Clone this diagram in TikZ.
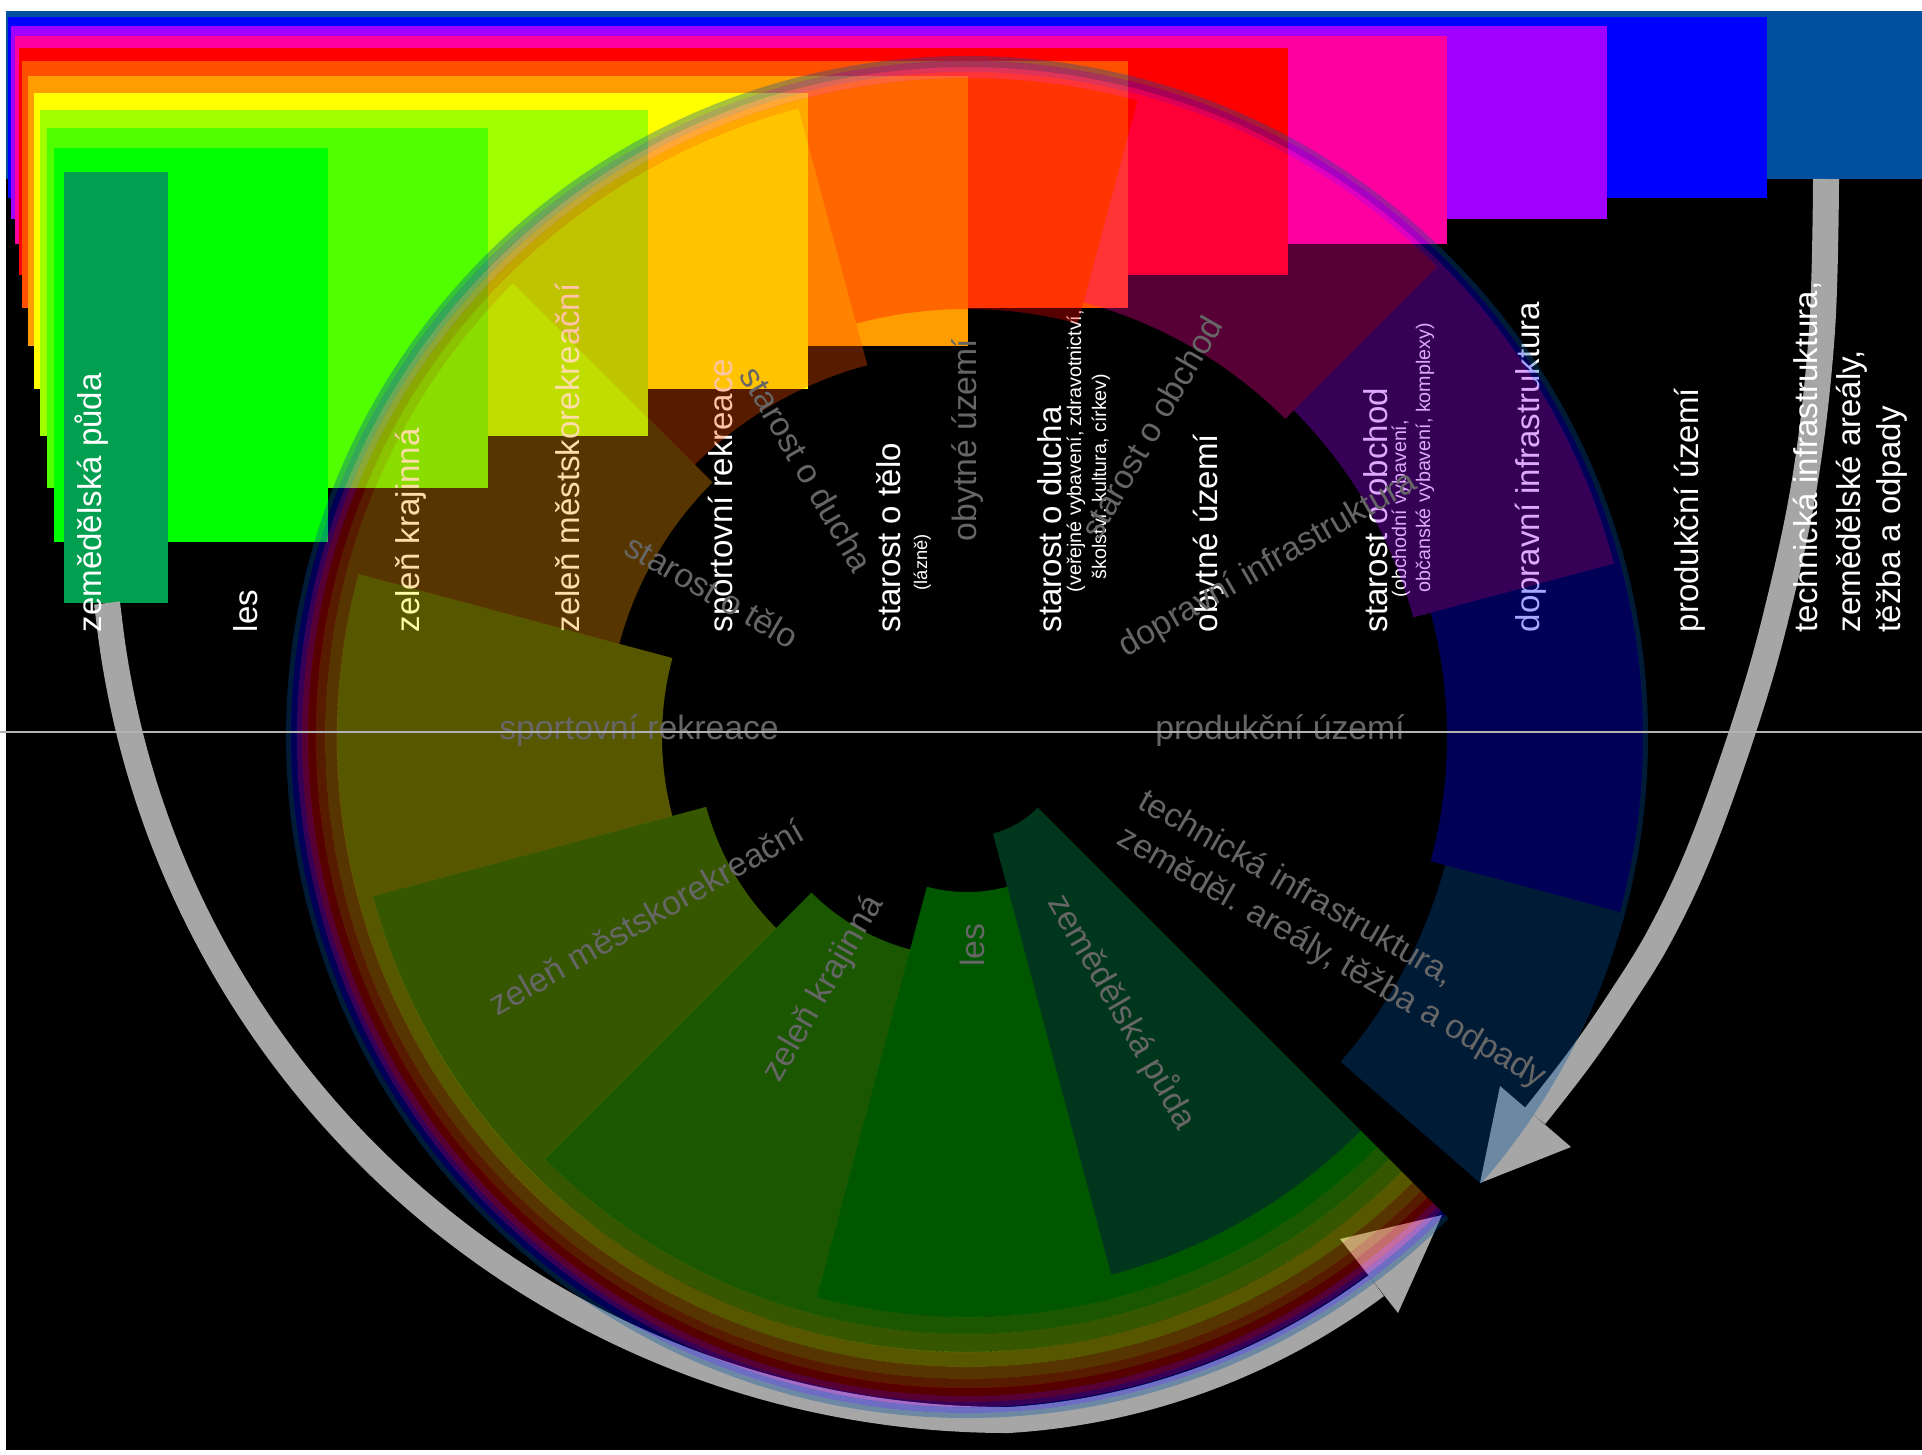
\documentclass[tikz,border=0pt]{standalone}
\usepackage{fontspec}
\setmainfont{Liberation Sans}
\usetikzlibrary{calc}
\definecolor{cZem}{HTML}{00A050}
\definecolor{cLes}{HTML}{00FF00}
\definecolor{cKraj}{HTML}{50FF00}
\definecolor{cMest}{HTML}{A0FF00}
\definecolor{cSport}{HTML}{FFFF00}
\definecolor{cTelo}{HTML}{FF9C00}
\definecolor{cDucha}{HTML}{FF5000}
\definecolor{cObyt}{HTML}{FF0000}
\definecolor{cObchod}{HTML}{FF00A0}
\definecolor{cDoprav}{HTML}{A000FF}
\definecolor{cProduk}{HTML}{0000FF}
\definecolor{cTech}{HTML}{0050A0}
\definecolor{arrowgray}{HTML}{A6A6A6}
\definecolor{wheeltext}{HTML}{666666}
\tikzset{
 collabel/.style={text=white, font=\fontsize{9.4}{11}\selectfont, rotate=90, anchor=base west, inner sep=0},
 sublabel/.style={text=white, font=\fontsize{5.6}{6.5}\selectfont, rotate=90, anchor=base west, inner sep=0},
 wheellabel/.style={text=wheeltext, font=\fontsize{9.6}{12}\selectfont, inner sep=0}
}

\begin{document}
\begin{tikzpicture}[x=0.1mm, y=-0.1mm]
\useasboundingbox (0,0) rectangle (1922,1454);
\fill[white] (0,0) rectangle (1922,1454);
\fill[black] (6,11) rectangle (1922,1450);
% bars, widest first
\foreach \col/\l/\t/\r/\b in {cTech/6/11/1922/179, cProduk/8/17/1767/198, cDoprav/11/26/1607/219,
  cObchod/15/36/1447/244, cObyt/19/48/1288/275, cDucha/22/61/1128/308, cTelo/28/76/968/346,
  cSport/34/93/808/389, cMest/40/110/648/436, cKraj/47/128/488/488, cLes/54/148/328/542, cZem/64/172/168/603}
 \fill[\col] (\l,\t) rectangle (\r,\b);
% arrows
\draw[arrowgray, line width=2.6mm] (107,603) -- (109,619) arc[start angle=173.4, end angle=90, radius=905]
  arc[start angle=86.6, end angle=53.3, radius=684];
\fill[arrowgray] (1442,1215) -- (1340,1239) -- (1398,1313) -- cycle;
\draw[arrowgray, line width=2.6mm] plot[smooth, tension=0.6] coordinates {(1826,179) (1822,330) (1805,480) (1775,620) (1743,730) (1700,850) (1660,935) (1620,1000) (1580,1058) (1535,1116)};
\fill[arrowgray] (1480,1183) -- (1500,1086) -- (1571,1147) -- cycle;
% column labels
\node[collabel] (zemlab) at (101,633) {zemědělská půda};
\node[collabel] (leslab) at (257,633) {les};
\node[collabel] (krajlab) at (419,633) {zeleň krajinná};
\node[collabel] (mestlab) at (579,633) {zeleň městskorekreační};
\node[collabel] (sportlab) at (732,633) {sportovní rekreace};
\node[collabel] (telolab) at (900,633) {starost o tělo};
\node[sublabel, font=\fontsize{5.2}{6}\selectfont] (telosub) at (927,591) {(lázně)};
\node[collabel] (duchalab) at (1061,633) {starost o ducha};
\node[sublabel] (duchasub1) at (1081,593) {(veřejné vybavení, zdravotnictví,};
\node[sublabel] (duchasub2) at (1106,580) {školství, kultura, církev)};
\node[collabel] (obytlab) at (1217,633) {obytné území};
\node[collabel] (obchodlab) at (1387,633) {starost o obchod};
\node[sublabel] (obchodsub1) at (1406,598) {(obchodní vybavení,};
\node[sublabel] (obchodsub2) at (1430,593) {občanské vybavení, komplexy)};
\node[collabel] (dopravlab) at (1539,633) {dopravní infrastruktura};
\node[collabel] (produklab) at (1698,633) {produkční území};
\node[collabel] (techlab1) at (1817,633) {technická infrastruktura,};
\node[collabel] (techlab2) at (1860,633) {zemědělské areály,};
\node[collabel] (techlab3) at (1900,633) {těžba a odpady};
% wheel: wedge + ring band of every category
\begin{scope}[shift={(967,737)}]
\foreach \col/\a/\b/\ri/\rp/\ro in {cZem/45/75/100/100/557, cLes/75/105/155/557/580, cKraj/105/135/220/580/597,
  cMest/135/165/270/597/615, cSport/165/195/305/615/630, cTelo/195/225/360/630/642, cDucha/225/255/385/642/651,
  cObyt/255/285/428/651/659, cObchod/285/315/450/659/665, cDoprav/315/345/462/665/670,
  cProduk/345/375/480/670/676, cTech/375/401/495/676/681}
 \fill[\col, fill opacity=0.34] (45:\rp) arc[start angle=45, end angle=\a, radius=\rp] -- (\a:\ri)
   arc[start angle=\a, end angle=\b, radius=\ri] -- (\b:\ro) arc[start angle=\b, end angle=45, radius=\ro] -- cycle;
\end{scope}
% wheel labels
\node[wheellabel] (sportw) at (639,731) {sportovní rekreace};
\node[wheellabel, rotate=30] (mestw) at (646,917) {zeleň městskorekreační};
\node[wheellabel, rotate=60] (krajw) at (824,989) {zeleň krajinná};
\node[wheellabel, rotate=90] (lesw) at (972,945) {les};
\node[wheellabel, rotate=-60] (zemw) at (1122,1012) {zemědělská půda};
\node[wheellabel, rotate=-30, align=left] (techw) at (1342,940) {technická infrastruktura,\\zeměděl. areály, těžba a odpady};
\node[wheellabel] (produkw) at (1280,731) {produkční území};
\node[wheellabel, rotate=30] (dopravw) at (1268,565) {dopravní infrastruktura};
\node[wheellabel, rotate=60] (obchodw) at (1151,427) {starost o obchod};
\node[wheellabel, rotate=90] (obytw) at (968,440) {obytné území};
\node[wheellabel, rotate=-60] (duchaw) at (807,469) {starost o ducha};
\node[wheellabel, rotate=-30] (telow) at (712,591) {starost o tělo};
\draw[gray!60, line width=0.12mm] (0,732) -- (1922,732);
\end{tikzpicture}
\end{document}
